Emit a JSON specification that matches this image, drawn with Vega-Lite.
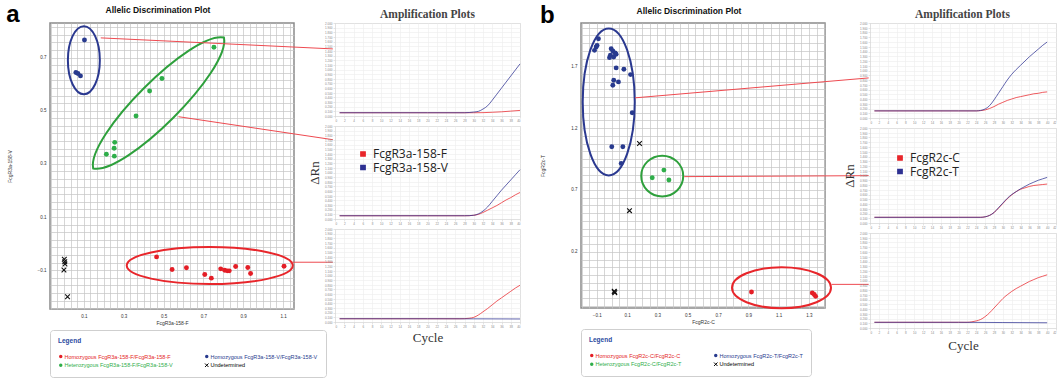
{
  "$schema": "https://vega.github.io/schema/vega-lite/v6.json",
  "background": "white",
  "padding": {"left": 6, "top": 2, "right": 0, "bottom": 0},
  "config": {
    "font": "Liberation Sans",
    "view": {"stroke": "#8a8a8a", "strokeWidth": 1.5},
    "axis": {"labelOverlap": false}
  },
  "datasets": {
    "scatterA": [
      {"x": 0.103, "y": 0.766, "genotype": "Homozygous FcgR3a-158-V/FcgR3a-158-V"},
      {"x": 0.06, "y": 0.644, "genotype": "Homozygous FcgR3a-158-V/FcgR3a-158-V"},
      {"x": 0.07, "y": 0.64, "genotype": "Homozygous FcgR3a-158-V/FcgR3a-158-V"},
      {"x": 0.083, "y": 0.631, "genotype": "Homozygous FcgR3a-158-V/FcgR3a-158-V"},
      {"x": 0.753, "y": 0.739, "genotype": "Heterozygous FcgR3a-158-F/FcgR3a-158-V"},
      {"x": 0.492, "y": 0.621, "genotype": "Heterozygous FcgR3a-158-F/FcgR3a-158-V"},
      {"x": 0.43, "y": 0.574, "genotype": "Heterozygous FcgR3a-158-F/FcgR3a-158-V"},
      {"x": 0.362, "y": 0.48, "genotype": "Heterozygous FcgR3a-158-F/FcgR3a-158-V"},
      {"x": 0.255, "y": 0.381, "genotype": "Heterozygous FcgR3a-158-F/FcgR3a-158-V"},
      {"x": 0.252, "y": 0.359, "genotype": "Heterozygous FcgR3a-158-F/FcgR3a-158-V"},
      {"x": 0.213, "y": 0.336, "genotype": "Heterozygous FcgR3a-158-F/FcgR3a-158-V"},
      {"x": 0.253, "y": 0.329, "genotype": "Heterozygous FcgR3a-158-F/FcgR3a-158-V"},
      {"x": 0.465, "y": -0.05, "genotype": "Homozygous FcgR3a-158-F/FcgR3a-158-F"},
      {"x": 0.543, "y": -0.0975, "genotype": "Homozygous FcgR3a-158-F/FcgR3a-158-F"},
      {"x": 0.615, "y": -0.091, "genotype": "Homozygous FcgR3a-158-F/FcgR3a-158-F"},
      {"x": 0.707, "y": -0.116, "genotype": "Homozygous FcgR3a-158-F/FcgR3a-158-F"},
      {"x": 0.74, "y": -0.13, "genotype": "Homozygous FcgR3a-158-F/FcgR3a-158-F"},
      {"x": 0.787, "y": -0.095, "genotype": "Homozygous FcgR3a-158-F/FcgR3a-158-F"},
      {"x": 0.807, "y": -0.1, "genotype": "Homozygous FcgR3a-158-F/FcgR3a-158-F"},
      {"x": 0.82, "y": -0.1025, "genotype": "Homozygous FcgR3a-158-F/FcgR3a-158-F"},
      {"x": 0.83, "y": -0.1025, "genotype": "Homozygous FcgR3a-158-F/FcgR3a-158-F"},
      {"x": 0.862, "y": -0.086, "genotype": "Homozygous FcgR3a-158-F/FcgR3a-158-F"},
      {"x": 0.923, "y": -0.09, "genotype": "Homozygous FcgR3a-158-F/FcgR3a-158-F"},
      {"x": 0.937, "y": -0.1125, "genotype": "Homozygous FcgR3a-158-F/FcgR3a-158-F"},
      {"x": 1.105, "y": -0.085, "genotype": "Homozygous FcgR3a-158-F/FcgR3a-158-F"},
      {"x": 0.002, "y": -0.059, "genotype": "Undetermined"},
      {"x": 0.004, "y": -0.068, "genotype": "Undetermined"},
      {"x": 0.005, "y": -0.077, "genotype": "Undetermined"},
      {"x": 0.0, "y": -0.099, "genotype": "Undetermined"},
      {"x": 0.018, "y": -0.2, "genotype": "Undetermined"}
    ],
    "scatterB": [
      {"x": -0.089, "y": 1.923, "genotype": "Homozygous FcgR2c-T/FcgR2c-T"},
      {"x": -0.104, "y": 1.856, "genotype": "Homozygous FcgR2c-T/FcgR2c-T"},
      {"x": -0.115, "y": 1.829, "genotype": "Homozygous FcgR2c-T/FcgR2c-T"},
      {"x": -0.098, "y": 1.869, "genotype": "Homozygous FcgR2c-T/FcgR2c-T"},
      {"x": -0.005, "y": 1.842, "genotype": "Homozygous FcgR2c-T/FcgR2c-T"},
      {"x": 0.006, "y": 1.824, "genotype": "Homozygous FcgR2c-T/FcgR2c-T"},
      {"x": 0.021, "y": 1.808, "genotype": "Homozygous FcgR2c-T/FcgR2c-T"},
      {"x": -0.01, "y": 1.789, "genotype": "Homozygous FcgR2c-T/FcgR2c-T"},
      {"x": -0.016, "y": 1.77, "genotype": "Homozygous FcgR2c-T/FcgR2c-T"},
      {"x": 0.012, "y": 1.775, "genotype": "Homozygous FcgR2c-T/FcgR2c-T"},
      {"x": 0.028, "y": 1.797, "genotype": "Homozygous FcgR2c-T/FcgR2c-T"},
      {"x": 0.028, "y": 1.687, "genotype": "Homozygous FcgR2c-T/FcgR2c-T"},
      {"x": 0.079, "y": 1.676, "genotype": "Homozygous FcgR2c-T/FcgR2c-T"},
      {"x": 0.123, "y": 1.633, "genotype": "Homozygous FcgR2c-T/FcgR2c-T"},
      {"x": 0.012, "y": 1.587, "genotype": "Homozygous FcgR2c-T/FcgR2c-T"},
      {"x": 0.043, "y": 1.574, "genotype": "Homozygous FcgR2c-T/FcgR2c-T"},
      {"x": 0.006, "y": 1.547, "genotype": "Homozygous FcgR2c-T/FcgR2c-T"},
      {"x": 0.134, "y": 1.324, "genotype": "Homozygous FcgR2c-T/FcgR2c-T"},
      {"x": -0.001, "y": 1.049, "genotype": "Homozygous FcgR2c-T/FcgR2c-T"},
      {"x": 0.072, "y": 1.049, "genotype": "Homozygous FcgR2c-T/FcgR2c-T"},
      {"x": 0.061, "y": 0.915, "genotype": "Homozygous FcgR2c-T/FcgR2c-T"},
      {"x": 0.266, "y": 0.799, "genotype": "Heterozygous FcgR2c-C/FcgR2c-T"},
      {"x": 0.343, "y": 0.861, "genotype": "Heterozygous FcgR2c-C/FcgR2c-T"},
      {"x": 0.376, "y": 0.781, "genotype": "Heterozygous FcgR2c-C/FcgR2c-T"},
      {"x": 0.921, "y": -0.125, "genotype": "Homozygous FcgR2c-C/FcgR2c-C"},
      {"x": 1.322, "y": -0.133, "genotype": "Homozygous FcgR2c-C/FcgR2c-C"},
      {"x": 1.335, "y": -0.145, "genotype": "Homozygous FcgR2c-C/FcgR2c-C"},
      {"x": 1.344, "y": -0.16, "genotype": "Homozygous FcgR2c-C/FcgR2c-C"},
      {"x": 0.182, "y": 1.076, "genotype": "Undetermined"},
      {"x": 0.116, "y": 0.533, "genotype": "Undetermined"},
      {"x": 0.017, "y": -0.123, "genotype": "Undetermined"},
      {"x": 0.019, "y": -0.13, "genotype": "Undetermined"},
      {"x": 0.015, "y": -0.118, "genotype": "Undetermined"}
    ],
    "ampA": [
      {"plot": 1, "allele": "FcgR3a-158-F", "cycle": 1, "rn": 0.07},
      {"plot": 1, "allele": "FcgR3a-158-F", "cycle": 10, "rn": 0.07},
      {"plot": 1, "allele": "FcgR3a-158-F", "cycle": 20, "rn": 0.07},
      {"plot": 1, "allele": "FcgR3a-158-F", "cycle": 30, "rn": 0.07},
      {"plot": 1, "allele": "FcgR3a-158-F", "cycle": 32, "rn": 0.072},
      {"plot": 1, "allele": "FcgR3a-158-F", "cycle": 34, "rn": 0.08},
      {"plot": 1, "allele": "FcgR3a-158-F", "cycle": 36, "rn": 0.09},
      {"plot": 1, "allele": "FcgR3a-158-F", "cycle": 38, "rn": 0.105},
      {"plot": 1, "allele": "FcgR3a-158-F", "cycle": 40, "rn": 0.12},
      {"plot": 1, "allele": "FcgR3a-158-V", "cycle": 1, "rn": 0.07},
      {"plot": 1, "allele": "FcgR3a-158-V", "cycle": 10, "rn": 0.07},
      {"plot": 1, "allele": "FcgR3a-158-V", "cycle": 20, "rn": 0.07},
      {"plot": 1, "allele": "FcgR3a-158-V", "cycle": 28, "rn": 0.07},
      {"plot": 1, "allele": "FcgR3a-158-V", "cycle": 29, "rn": 0.075},
      {"plot": 1, "allele": "FcgR3a-158-V", "cycle": 30, "rn": 0.085},
      {"plot": 1, "allele": "FcgR3a-158-V", "cycle": 31, "rn": 0.1},
      {"plot": 1, "allele": "FcgR3a-158-V", "cycle": 32, "rn": 0.15},
      {"plot": 1, "allele": "FcgR3a-158-V", "cycle": 33, "rn": 0.22},
      {"plot": 1, "allele": "FcgR3a-158-V", "cycle": 34, "rn": 0.34},
      {"plot": 1, "allele": "FcgR3a-158-V", "cycle": 35, "rn": 0.47},
      {"plot": 1, "allele": "FcgR3a-158-V", "cycle": 36, "rn": 0.6},
      {"plot": 1, "allele": "FcgR3a-158-V", "cycle": 37, "rn": 0.73},
      {"plot": 1, "allele": "FcgR3a-158-V", "cycle": 38, "rn": 0.86},
      {"plot": 1, "allele": "FcgR3a-158-V", "cycle": 39, "rn": 0.99},
      {"plot": 1, "allele": "FcgR3a-158-V", "cycle": 40, "rn": 1.12},
      {"plot": 2, "allele": "FcgR3a-158-F", "cycle": 1, "rn": 0.07},
      {"plot": 2, "allele": "FcgR3a-158-F", "cycle": 10, "rn": 0.07},
      {"plot": 2, "allele": "FcgR3a-158-F", "cycle": 20, "rn": 0.07},
      {"plot": 2, "allele": "FcgR3a-158-F", "cycle": 28, "rn": 0.07},
      {"plot": 2, "allele": "FcgR3a-158-F", "cycle": 29, "rn": 0.071},
      {"plot": 2, "allele": "FcgR3a-158-F", "cycle": 30, "rn": 0.08},
      {"plot": 2, "allele": "FcgR3a-158-F", "cycle": 31, "rn": 0.1},
      {"plot": 2, "allele": "FcgR3a-158-F", "cycle": 32, "rn": 0.14},
      {"plot": 2, "allele": "FcgR3a-158-F", "cycle": 33, "rn": 0.19},
      {"plot": 2, "allele": "FcgR3a-158-F", "cycle": 34, "rn": 0.24},
      {"plot": 2, "allele": "FcgR3a-158-F", "cycle": 35, "rn": 0.29},
      {"plot": 2, "allele": "FcgR3a-158-F", "cycle": 36, "rn": 0.35},
      {"plot": 2, "allele": "FcgR3a-158-F", "cycle": 37, "rn": 0.41},
      {"plot": 2, "allele": "FcgR3a-158-F", "cycle": 38, "rn": 0.46},
      {"plot": 2, "allele": "FcgR3a-158-F", "cycle": 39, "rn": 0.52},
      {"plot": 2, "allele": "FcgR3a-158-F", "cycle": 40, "rn": 0.57},
      {"plot": 2, "allele": "FcgR3a-158-V", "cycle": 1, "rn": 0.07},
      {"plot": 2, "allele": "FcgR3a-158-V", "cycle": 10, "rn": 0.07},
      {"plot": 2, "allele": "FcgR3a-158-V", "cycle": 20, "rn": 0.07},
      {"plot": 2, "allele": "FcgR3a-158-V", "cycle": 28, "rn": 0.07},
      {"plot": 2, "allele": "FcgR3a-158-V", "cycle": 29, "rn": 0.072},
      {"plot": 2, "allele": "FcgR3a-158-V", "cycle": 30, "rn": 0.08},
      {"plot": 2, "allele": "FcgR3a-158-V", "cycle": 31, "rn": 0.11},
      {"plot": 2, "allele": "FcgR3a-158-V", "cycle": 32, "rn": 0.17},
      {"plot": 2, "allele": "FcgR3a-158-V", "cycle": 33, "rn": 0.26},
      {"plot": 2, "allele": "FcgR3a-158-V", "cycle": 34, "rn": 0.38},
      {"plot": 2, "allele": "FcgR3a-158-V", "cycle": 35, "rn": 0.5},
      {"plot": 2, "allele": "FcgR3a-158-V", "cycle": 36, "rn": 0.62},
      {"plot": 2, "allele": "FcgR3a-158-V", "cycle": 37, "rn": 0.73},
      {"plot": 2, "allele": "FcgR3a-158-V", "cycle": 38, "rn": 0.84},
      {"plot": 2, "allele": "FcgR3a-158-V", "cycle": 39, "rn": 0.95},
      {"plot": 2, "allele": "FcgR3a-158-V", "cycle": 40, "rn": 1.06},
      {"plot": 3, "allele": "FcgR3a-158-F", "cycle": 1, "rn": 0.07},
      {"plot": 3, "allele": "FcgR3a-158-F", "cycle": 10, "rn": 0.07},
      {"plot": 3, "allele": "FcgR3a-158-F", "cycle": 20, "rn": 0.07},
      {"plot": 3, "allele": "FcgR3a-158-F", "cycle": 27, "rn": 0.07},
      {"plot": 3, "allele": "FcgR3a-158-F", "cycle": 28, "rn": 0.072},
      {"plot": 3, "allele": "FcgR3a-158-F", "cycle": 29, "rn": 0.08},
      {"plot": 3, "allele": "FcgR3a-158-F", "cycle": 30, "rn": 0.1},
      {"plot": 3, "allele": "FcgR3a-158-F", "cycle": 31, "rn": 0.15},
      {"plot": 3, "allele": "FcgR3a-158-F", "cycle": 32, "rn": 0.22},
      {"plot": 3, "allele": "FcgR3a-158-F", "cycle": 33, "rn": 0.29},
      {"plot": 3, "allele": "FcgR3a-158-F", "cycle": 34, "rn": 0.37},
      {"plot": 3, "allele": "FcgR3a-158-F", "cycle": 35, "rn": 0.45},
      {"plot": 3, "allele": "FcgR3a-158-F", "cycle": 36, "rn": 0.52},
      {"plot": 3, "allele": "FcgR3a-158-F", "cycle": 37, "rn": 0.59},
      {"plot": 3, "allele": "FcgR3a-158-F", "cycle": 38, "rn": 0.66},
      {"plot": 3, "allele": "FcgR3a-158-F", "cycle": 39, "rn": 0.73},
      {"plot": 3, "allele": "FcgR3a-158-F", "cycle": 40, "rn": 0.79},
      {"plot": 3, "allele": "FcgR3a-158-V", "cycle": 1, "rn": 0.07},
      {"plot": 3, "allele": "FcgR3a-158-V", "cycle": 10, "rn": 0.07},
      {"plot": 3, "allele": "FcgR3a-158-V", "cycle": 20, "rn": 0.07},
      {"plot": 3, "allele": "FcgR3a-158-V", "cycle": 30, "rn": 0.068},
      {"plot": 3, "allele": "FcgR3a-158-V", "cycle": 40, "rn": 0.065}
    ],
    "ampB": [
      {"plot": 1, "allele": "FcgR2c-C", "cycle": 1, "rn": 0.15},
      {"plot": 1, "allele": "FcgR2c-C", "cycle": 10, "rn": 0.15},
      {"plot": 1, "allele": "FcgR2c-C", "cycle": 20, "rn": 0.15},
      {"plot": 1, "allele": "FcgR2c-C", "cycle": 24, "rn": 0.15},
      {"plot": 1, "allele": "FcgR2c-C", "cycle": 25, "rn": 0.155},
      {"plot": 1, "allele": "FcgR2c-C", "cycle": 26, "rn": 0.17},
      {"plot": 1, "allele": "FcgR2c-C", "cycle": 27, "rn": 0.2},
      {"plot": 1, "allele": "FcgR2c-C", "cycle": 28, "rn": 0.24},
      {"plot": 1, "allele": "FcgR2c-C", "cycle": 29, "rn": 0.29},
      {"plot": 1, "allele": "FcgR2c-C", "cycle": 30, "rn": 0.33},
      {"plot": 1, "allele": "FcgR2c-C", "cycle": 31, "rn": 0.37},
      {"plot": 1, "allele": "FcgR2c-C", "cycle": 32, "rn": 0.4},
      {"plot": 1, "allele": "FcgR2c-C", "cycle": 33, "rn": 0.43},
      {"plot": 1, "allele": "FcgR2c-C", "cycle": 34, "rn": 0.45},
      {"plot": 1, "allele": "FcgR2c-C", "cycle": 35, "rn": 0.47},
      {"plot": 1, "allele": "FcgR2c-C", "cycle": 36, "rn": 0.49},
      {"plot": 1, "allele": "FcgR2c-C", "cycle": 37, "rn": 0.51},
      {"plot": 1, "allele": "FcgR2c-C", "cycle": 38, "rn": 0.52},
      {"plot": 1, "allele": "FcgR2c-C", "cycle": 39, "rn": 0.54},
      {"plot": 1, "allele": "FcgR2c-C", "cycle": 40, "rn": 0.55},
      {"plot": 1, "allele": "FcgR2c-T", "cycle": 1, "rn": 0.15},
      {"plot": 1, "allele": "FcgR2c-T", "cycle": 10, "rn": 0.15},
      {"plot": 1, "allele": "FcgR2c-T", "cycle": 20, "rn": 0.15},
      {"plot": 1, "allele": "FcgR2c-T", "cycle": 24, "rn": 0.15},
      {"plot": 1, "allele": "FcgR2c-T", "cycle": 25, "rn": 0.16},
      {"plot": 1, "allele": "FcgR2c-T", "cycle": 26, "rn": 0.19},
      {"plot": 1, "allele": "FcgR2c-T", "cycle": 27, "rn": 0.26},
      {"plot": 1, "allele": "FcgR2c-T", "cycle": 28, "rn": 0.38},
      {"plot": 1, "allele": "FcgR2c-T", "cycle": 29, "rn": 0.52},
      {"plot": 1, "allele": "FcgR2c-T", "cycle": 30, "rn": 0.66},
      {"plot": 1, "allele": "FcgR2c-T", "cycle": 31, "rn": 0.8},
      {"plot": 1, "allele": "FcgR2c-T", "cycle": 32, "rn": 0.92},
      {"plot": 1, "allele": "FcgR2c-T", "cycle": 33, "rn": 1.02},
      {"plot": 1, "allele": "FcgR2c-T", "cycle": 34, "rn": 1.11},
      {"plot": 1, "allele": "FcgR2c-T", "cycle": 35, "rn": 1.2},
      {"plot": 1, "allele": "FcgR2c-T", "cycle": 36, "rn": 1.29},
      {"plot": 1, "allele": "FcgR2c-T", "cycle": 37, "rn": 1.37},
      {"plot": 1, "allele": "FcgR2c-T", "cycle": 38, "rn": 1.45},
      {"plot": 1, "allele": "FcgR2c-T", "cycle": 39, "rn": 1.53},
      {"plot": 1, "allele": "FcgR2c-T", "cycle": 40, "rn": 1.6},
      {"plot": 2, "allele": "FcgR2c-C", "cycle": 1, "rn": 0.12},
      {"plot": 2, "allele": "FcgR2c-C", "cycle": 10, "rn": 0.12},
      {"plot": 2, "allele": "FcgR2c-C", "cycle": 20, "rn": 0.12},
      {"plot": 2, "allele": "FcgR2c-C", "cycle": 25, "rn": 0.12},
      {"plot": 2, "allele": "FcgR2c-C", "cycle": 26, "rn": 0.13},
      {"plot": 2, "allele": "FcgR2c-C", "cycle": 27, "rn": 0.16},
      {"plot": 2, "allele": "FcgR2c-C", "cycle": 28, "rn": 0.22},
      {"plot": 2, "allele": "FcgR2c-C", "cycle": 29, "rn": 0.31},
      {"plot": 2, "allele": "FcgR2c-C", "cycle": 30, "rn": 0.41},
      {"plot": 2, "allele": "FcgR2c-C", "cycle": 31, "rn": 0.51},
      {"plot": 2, "allele": "FcgR2c-C", "cycle": 32, "rn": 0.59},
      {"plot": 2, "allele": "FcgR2c-C", "cycle": 33, "rn": 0.66},
      {"plot": 2, "allele": "FcgR2c-C", "cycle": 34, "rn": 0.71},
      {"plot": 2, "allele": "FcgR2c-C", "cycle": 35, "rn": 0.74},
      {"plot": 2, "allele": "FcgR2c-C", "cycle": 36, "rn": 0.77},
      {"plot": 2, "allele": "FcgR2c-C", "cycle": 37, "rn": 0.79},
      {"plot": 2, "allele": "FcgR2c-C", "cycle": 38, "rn": 0.8},
      {"plot": 2, "allele": "FcgR2c-C", "cycle": 39, "rn": 0.81},
      {"plot": 2, "allele": "FcgR2c-C", "cycle": 40, "rn": 0.82},
      {"plot": 2, "allele": "FcgR2c-T", "cycle": 1, "rn": 0.12},
      {"plot": 2, "allele": "FcgR2c-T", "cycle": 10, "rn": 0.12},
      {"plot": 2, "allele": "FcgR2c-T", "cycle": 20, "rn": 0.12},
      {"plot": 2, "allele": "FcgR2c-T", "cycle": 25, "rn": 0.12},
      {"plot": 2, "allele": "FcgR2c-T", "cycle": 26, "rn": 0.13},
      {"plot": 2, "allele": "FcgR2c-T", "cycle": 27, "rn": 0.16},
      {"plot": 2, "allele": "FcgR2c-T", "cycle": 28, "rn": 0.22},
      {"plot": 2, "allele": "FcgR2c-T", "cycle": 29, "rn": 0.32},
      {"plot": 2, "allele": "FcgR2c-T", "cycle": 30, "rn": 0.42},
      {"plot": 2, "allele": "FcgR2c-T", "cycle": 31, "rn": 0.52},
      {"plot": 2, "allele": "FcgR2c-T", "cycle": 32, "rn": 0.6},
      {"plot": 2, "allele": "FcgR2c-T", "cycle": 33, "rn": 0.66},
      {"plot": 2, "allele": "FcgR2c-T", "cycle": 34, "rn": 0.72},
      {"plot": 2, "allele": "FcgR2c-T", "cycle": 35, "rn": 0.77},
      {"plot": 2, "allele": "FcgR2c-T", "cycle": 36, "rn": 0.82},
      {"plot": 2, "allele": "FcgR2c-T", "cycle": 37, "rn": 0.86},
      {"plot": 2, "allele": "FcgR2c-T", "cycle": 38, "rn": 0.9},
      {"plot": 2, "allele": "FcgR2c-T", "cycle": 39, "rn": 0.93},
      {"plot": 2, "allele": "FcgR2c-T", "cycle": 40, "rn": 0.96},
      {"plot": 3, "allele": "FcgR2c-C", "cycle": 1, "rn": 0.12},
      {"plot": 3, "allele": "FcgR2c-C", "cycle": 10, "rn": 0.12},
      {"plot": 3, "allele": "FcgR2c-C", "cycle": 20, "rn": 0.12},
      {"plot": 3, "allele": "FcgR2c-C", "cycle": 22, "rn": 0.12},
      {"plot": 3, "allele": "FcgR2c-C", "cycle": 23, "rn": 0.13},
      {"plot": 3, "allele": "FcgR2c-C", "cycle": 24, "rn": 0.15},
      {"plot": 3, "allele": "FcgR2c-C", "cycle": 25, "rn": 0.18},
      {"plot": 3, "allele": "FcgR2c-C", "cycle": 26, "rn": 0.24},
      {"plot": 3, "allele": "FcgR2c-C", "cycle": 27, "rn": 0.32},
      {"plot": 3, "allele": "FcgR2c-C", "cycle": 28, "rn": 0.42},
      {"plot": 3, "allele": "FcgR2c-C", "cycle": 29, "rn": 0.52},
      {"plot": 3, "allele": "FcgR2c-C", "cycle": 30, "rn": 0.62},
      {"plot": 3, "allele": "FcgR2c-C", "cycle": 31, "rn": 0.7},
      {"plot": 3, "allele": "FcgR2c-C", "cycle": 32, "rn": 0.77},
      {"plot": 3, "allele": "FcgR2c-C", "cycle": 33, "rn": 0.83},
      {"plot": 3, "allele": "FcgR2c-C", "cycle": 34, "rn": 0.88},
      {"plot": 3, "allele": "FcgR2c-C", "cycle": 35, "rn": 0.93},
      {"plot": 3, "allele": "FcgR2c-C", "cycle": 36, "rn": 0.98},
      {"plot": 3, "allele": "FcgR2c-C", "cycle": 37, "rn": 1.02},
      {"plot": 3, "allele": "FcgR2c-C", "cycle": 38, "rn": 1.06},
      {"plot": 3, "allele": "FcgR2c-C", "cycle": 39, "rn": 1.09},
      {"plot": 3, "allele": "FcgR2c-C", "cycle": 40, "rn": 1.12},
      {"plot": 3, "allele": "FcgR2c-T", "cycle": 1, "rn": 0.12},
      {"plot": 3, "allele": "FcgR2c-T", "cycle": 10, "rn": 0.12},
      {"plot": 3, "allele": "FcgR2c-T", "cycle": 20, "rn": 0.12},
      {"plot": 3, "allele": "FcgR2c-T", "cycle": 30, "rn": 0.115},
      {"plot": 3, "allele": "FcgR2c-T", "cycle": 40, "rn": 0.11}
    ]
  },
  "hconcat": [
    {
      "title": {"text": "a", "anchor": "start", "frame": "bounds", "fontSize": 24, "fontWeight": "bold", "offset": -22, "color": "#000"},
      "spacing": -28,
      "resolve": {"scale": {"x": "independent", "y": "independent", "color": "independent"}, "axis": {"x": "independent", "y": "independent"}, "legend": {"color": "independent"}},
      "hconcat": [
        {
          "width": 244,
          "height": 286,
          "title": {"text": "Allelic Discrimination Plot", "fontSize": 8.5, "fontWeight": "bold", "offset": 8, "color": "#111", "dx": -14},
          "layer": [
            {
              "data": {"name": "scatterA"},
              "transform": [{"filter": "datum.genotype != 'Undetermined'"}],
              "mark": {"type": "point", "filled": true, "size": 24, "opacity": 1},
              "encoding": {
                "x": {"field": "x", "type": "quantitative", "scale": {"domain": [-0.07, 1.155], "nice": false, "zero": false},
                  "axis": {"title": "FcgR3a-158-F", "tickCount": 200, "values": [-0.0667, -0.0333, 0, 0.0333, 0.0667, 0.1, 0.1333, 0.1667, 0.2, 0.2333, 0.2667, 0.3, 0.3333, 0.3667, 0.4, 0.4333, 0.4667, 0.5, 0.5333, 0.5667, 0.6, 0.6333, 0.6667, 0.7, 0.7333, 0.7667, 0.8, 0.8333, 0.8667, 0.9, 0.9333, 0.9667, 1.0, 1.0333, 1.0667, 1.1, 1.1333],
                    "labelExpr": "abs((datum.value - 0.1) / 0.2 - round((datum.value - 0.1) / 0.2)) < 0.01 ? format(datum.value, '.1f') : ''",
                    "labelFontSize": 4.5, "labelColor": "#333", "labelPadding": 4, "ticks": false, "domain": false, "grid": true, "gridColor": "#c4c4c4", "gridWidth": 0.7,
                    "titleFontSize": 5, "titleFontWeight": "normal", "titleColor": "#333", "titlePadding": 3, "labelOverlap": false}},
                "y": {"field": "y", "type": "quantitative", "scale": {"domain": [-0.246, 0.83], "nice": false, "zero": false},
                  "axis": {"title": "FcgR3a-158-V", "tickCount": 200, "values": [-0.2429, -0.2143, -0.1857, -0.1571, -0.1286, -0.1, -0.0714, -0.0429, -0.0143, 0.0143, 0.0429, 0.0714, 0.1, 0.1286, 0.1571, 0.1857, 0.2143, 0.2429, 0.2714, 0.3, 0.3286, 0.3571, 0.3857, 0.4143, 0.4429, 0.4714, 0.5, 0.5286, 0.5571, 0.5857, 0.6143, 0.6429, 0.6714, 0.7, 0.7286, 0.7571, 0.7857, 0.8143],
                    "labelExpr": "abs((datum.value + 0.1) / 0.2 - round((datum.value + 0.1) / 0.2)) < 0.01 ? format(datum.value, '.1f') : ''",
                    "labelFontSize": 4.5, "labelColor": "#333", "labelPadding": 4, "ticks": false, "domain": false, "grid": true, "gridColor": "#c4c4c4", "gridWidth": 0.7,
                    "titleFontSize": 5, "titleFontWeight": "normal", "titleColor": "#333", "titlePadding": 25, "labelOverlap": false}},
                "color": {"field": "genotype", "type": "nominal",
                  "scale": {"domain": ["Homozygous FcgR3a-158-F/FcgR3a-158-F", "Homozygous FcgR3a-158-V/FcgR3a-158-V", "Heterozygous FcgR3a-158-F/FcgR3a-158-V", "Undetermined"], "range": ["#e41e26", "#283a8e", "#2fae4a", "#000000"]},
                  "legend": {"title": "Legend", "orient": "bottom", "columns": 2, "titleColor": "#2b4aa0", "titleFontSize": 6.5, "titleFontWeight": "bold", "titleAnchor": "start", "titlePadding": 9,
                    "labelFontSize": 5.5, "labelLimit": 300, "symbolSize": 12, "columnPadding": 30, "rowPadding": 1, "padding": 8, "strokeColor": "#cfcfcf", "cornerRadius": 3, "offset": 4, "labelOffset": 1,
                    "encoding": {
                      "symbols": {
                        "shape": {"value": {"expr": "datum.value === 'Undetermined' ? 'M-1,-1L1,1M-1,1L1,-1' : 'circle'"}},
                        "fill": {"value": {"expr": "datum.value === 'Undetermined' ? 'transparent' : datum.value === 'Homozygous FcgR3a-158-F/FcgR3a-158-F' ? '#e41e26' : datum.value === 'Homozygous FcgR3a-158-V/FcgR3a-158-V' ? '#283a8e' : '#2fae4a'"}},
                        "stroke": {"value": {"expr": "datum.value === 'Undetermined' ? '#000000' : 'transparent'"}},
                        "strokeWidth": {"value": 1}},
                      "labels": {
                        "fill": {"value": {"expr": "datum.value === 'Undetermined' ? '#000000' : datum.value === 'Homozygous FcgR3a-158-F/FcgR3a-158-F' ? '#e41e26' : datum.value === 'Homozygous FcgR3a-158-V/FcgR3a-158-V' ? '#283a8e' : '#2fae4a'"}}}
                    }}}
              }
            },
            {
              "data": {"values": [{"x": 0.1, "y": 0.69}]},
              "mark": {"type": "point", "shape": "M-1,0A1,0.47,0,1,0,1,0A1,0.47,0,1,0,-1,0Z", "size": 4624, "angle": 90, "filled": false, "stroke": "#2b3990", "strokeWidth": 2, "opacity": 1, "clip": false},
              "encoding": {"x": {"field": "x", "type": "quantitative"}, "y": {"field": "y", "type": "quantitative"}}
            },
            {
              "data": {"values": [{"x": 0.475, "y": 0.529}]},
              "mark": {"type": "point", "shape": "M-1,0C-0.8,-0.3,0.8,-0.3,1,0C0.8,0.3,-0.8,0.3,-1,0Z", "size": 34225, "angle": 315, "filled": false, "stroke": "#2ea03c", "strokeWidth": 2, "opacity": 1, "clip": false},
              "encoding": {"x": {"field": "x", "type": "quantitative"}, "y": {"field": "y", "type": "quantitative"}}
            },
            {
              "data": {"values": [{"x": 0.732, "y": -0.0825}]},
              "mark": {"type": "point", "shape": "M-1,0A1,0.223,0,1,0,1,0A1,0.223,0,1,0,-1,0Z", "size": 27556, "angle": 0, "filled": false, "stroke": "#e8262b", "strokeWidth": 2, "opacity": 1, "clip": false},
              "encoding": {"x": {"field": "x", "type": "quantitative"}, "y": {"field": "y", "type": "quantitative"}}
            },
            {
              "data": {"values": [
                {"x": 0.185, "y": 0.774, "x2": 1.35, "y2": 0.7325},
                {"x": 0.575, "y": 0.4775, "x2": 1.35, "y2": 0.391},
                {"x": 1.145, "y": -0.07, "x2": 1.35, "y2": -0.07}
              ]},
              "mark": {"type": "rule", "color": "#ee4a50", "strokeWidth": 1, "clip": false},
              "encoding": {"x": {"field": "x", "type": "quantitative"}, "y": {"field": "y", "type": "quantitative"}, "x2": {"field": "x2"}, "y2": {"field": "y2"}}
            },
            {
              "data": {"name": "scatterA"},
              "transform": [{"filter": "datum.genotype == 'Undetermined'"}],
              "mark": {"type": "point", "shape": "M-1,-1L1,1M-1,1L1,-1", "size": 22, "filled": false, "stroke": "#111111", "strokeWidth": 1.1, "opacity": 1},
              "encoding": {"x": {"field": "x", "type": "quantitative"}, "y": {"field": "y", "type": "quantitative"}}
            }
          ]
        },
        {
          "title": {"text": "Amplification Plots", "font": "Liberation Serif", "fontSize": 11.5, "fontWeight": "bold", "color": "#444", "offset": 1, "anchor": "start", "frame": "bounds", "dx": 72},
          "spacing": 1,
          "resolve": {"scale": {"x": "independent", "y": "independent", "color": "independent"}, "legend": {"color": "independent"}},
          "vconcat": [
            {
              "width": 185, "height": 93,
              "view": {"stroke": "#d0d0d0", "strokeWidth": 1},
              "data": {"name": "ampA"},
              "transform": [{"filter": "datum.plot == 1"}],
              "mark": {"type": "line", "strokeWidth": 1, "interpolate": "monotone", "opacity": 0.75},
              "encoding": {
                "x": {"field": "cycle", "type": "quantitative", "scale": {"domain": [0, 40], "nice": false},
                  "axis": {"tickCount": 100, "values": [0, 2, 4, 6, 8, 10, 12, 14, 16, 18, 20, 22, 24, 26, 28, 30, 32, 34, 36, 38, 40], "format": "d", "labelFontSize": 3, "labelColor": "#888", "labelPadding": 1, "tickSize": 2, "tickColor": "#c8c8c8", "tickWidth": 0.5, "grid": true, "gridColor": "#ececec", "gridWidth": 0.6, "domain": false, "title": null}},
                "y": {"field": "rn", "type": "quantitative", "scale": {"domain": [0, 2], "nice": false},
                  "axis": {"tickCount": 100, "values": [0, 0.1, 0.2, 0.3, 0.4, 0.5, 0.6, 0.7, 0.8, 0.9, 1.0, 1.1, 1.2, 1.3, 1.4, 1.5, 1.6, 1.7, 1.8, 1.9, 2.0], "format": ".3f", "labelFontSize": 3, "labelColor": "#888", "labelPadding": 1, "tickSize": 2, "tickColor": "#c8c8c8", "tickWidth": 0.5, "grid": true, "gridColor": "#ececec", "gridWidth": 0.6, "domain": false, "title": null}},
                "color": {"field": "allele", "type": "nominal", "scale": {"domain": ["FcgR3a-158-F", "FcgR3a-158-V"], "range": ["#e8262b", "#2e3192"]}, "legend": null}
              }
            },
            {
              "width": 185, "height": 93,
              "view": {"stroke": "#d0d0d0", "strokeWidth": 1},
              "data": {"name": "ampA"},
              "transform": [{"filter": "datum.plot == 2"}],
              "mark": {"type": "line", "strokeWidth": 1, "interpolate": "monotone", "opacity": 0.75},
              "encoding": {
                "x": {"field": "cycle", "type": "quantitative", "scale": {"domain": [0, 40], "nice": false},
                  "axis": {"tickCount": 100, "values": [0, 2, 4, 6, 8, 10, 12, 14, 16, 18, 20, 22, 24, 26, 28, 30, 32, 34, 36, 38, 40], "format": "d", "labelFontSize": 3, "labelColor": "#888", "labelPadding": 1, "tickSize": 2, "tickColor": "#c8c8c8", "tickWidth": 0.5, "grid": true, "gridColor": "#ececec", "gridWidth": 0.6, "domain": false, "title": null}},
                "y": {"field": "rn", "type": "quantitative", "scale": {"domain": [0, 2], "nice": false},
                  "axis": {"tickCount": 100, "values": [0, 0.1, 0.2, 0.3, 0.4, 0.5, 0.6, 0.7, 0.8, 0.9, 1.0, 1.1, 1.2, 1.3, 1.4, 1.5, 1.6, 1.7, 1.8, 1.9, 2.0], "format": ".3f", "labelFontSize": 3, "labelColor": "#888", "labelPadding": 1, "tickSize": 2, "tickColor": "#c8c8c8", "tickWidth": 0.5, "grid": true, "gridColor": "#ececec", "gridWidth": 0.6, "domain": false,
                    "title": "ΔRn", "titleFont": "Liberation Serif", "titleFontSize": 13, "titleFontWeight": "normal", "titleColor": "#333", "titlePadding": 3}},
                "color": {"field": "allele", "type": "nominal", "scale": {"domain": ["FcgR3a-158-F", "FcgR3a-158-V"], "range": ["#e8262b", "#2e3192"]},
                  "legend": {"title": null, "orient": "top-left", "offset": 22, "labelFont": "Open Sans", "labelFontSize": 12, "labelColor": "#222", "symbolSize": 18, "rowPadding": 1.5, "labelOffset": 4,
                    "encoding": {"symbols": {
                      "shape": {"value": "square"},
                      "fill": {"value": {"expr": "datum.value === 'FcgR3a-158-F' ? '#e8262b' : '#2e3192'"}},
                      "stroke": {"value": "transparent"},
                      "opacity": {"value": 1}}}}}
              }
            },
            {
              "width": 185, "height": 93,
              "view": {"stroke": "#d0d0d0", "strokeWidth": 1},
              "data": {"name": "ampA"},
              "transform": [{"filter": "datum.plot == 3"}],
              "mark": {"type": "line", "strokeWidth": 1, "interpolate": "monotone", "opacity": 0.75},
              "encoding": {
                "x": {"field": "cycle", "type": "quantitative", "scale": {"domain": [0, 40], "nice": false},
                  "axis": {"tickCount": 100, "values": [0, 2, 4, 6, 8, 10, 12, 14, 16, 18, 20, 22, 24, 26, 28, 30, 32, 34, 36, 38, 40], "format": "d", "labelFontSize": 3, "labelColor": "#888", "labelPadding": 1, "tickSize": 2, "tickColor": "#c8c8c8", "tickWidth": 0.5, "grid": true, "gridColor": "#ececec", "gridWidth": 0.6, "domain": false,
                    "title": "Cycle", "titleFont": "Liberation Serif", "titleFontSize": 13, "titleFontWeight": "normal", "titleColor": "#333", "titlePadding": 3}},
                "y": {"field": "rn", "type": "quantitative", "scale": {"domain": [0, 2], "nice": false},
                  "axis": {"tickCount": 100, "values": [0, 0.1, 0.2, 0.3, 0.4, 0.5, 0.6, 0.7, 0.8, 0.9, 1.0, 1.1, 1.2, 1.3, 1.4, 1.5, 1.6, 1.7, 1.8, 1.9, 2.0], "format": ".3f", "labelFontSize": 3, "labelColor": "#888", "labelPadding": 1, "tickSize": 2, "tickColor": "#c8c8c8", "tickWidth": 0.5, "grid": true, "gridColor": "#ececec", "gridWidth": 0.6, "domain": false, "title": null}},
                "color": {"field": "allele", "type": "nominal", "scale": {"domain": ["FcgR3a-158-F", "FcgR3a-158-V"], "range": ["#e8262b", "#2e3192"]}, "legend": null}
              }
            }
          ]
        }
      ]
    },
    {
      "title": {"text": "b", "anchor": "start", "frame": "bounds", "fontSize": 24, "fontWeight": "bold", "offset": -22, "color": "#000"},
      "spacing": -30,
      "resolve": {"scale": {"x": "independent", "y": "independent", "color": "independent"}, "axis": {"x": "independent", "y": "independent"}, "legend": {"color": "independent"}},
      "hconcat": [
        {
          "width": 244,
          "height": 285,
          "title": {"text": "Allelic Discrimination Plot", "fontSize": 8.5, "fontWeight": "bold", "offset": 8, "color": "#111", "dx": -14},
          "layer": [
            {
              "data": {"name": "scatterB"},
              "transform": [{"filter": "datum.genotype != 'Undetermined'"}],
              "mark": {"type": "point", "filled": true, "size": 24, "opacity": 1},
              "encoding": {
                "x": {"field": "x", "type": "quantitative", "scale": {"domain": [-0.204, 1.406], "nice": false, "zero": false},
                  "axis": {"title": "FcgR2c-C", "tickCount": 200, "values": [-0.2, -0.15, -0.1, -0.05, 0, 0.05, 0.1, 0.15, 0.2, 0.25, 0.3, 0.35, 0.4, 0.45, 0.5, 0.55, 0.6, 0.65, 0.7, 0.75, 0.8, 0.85, 0.9, 0.95, 1.0, 1.05, 1.1, 1.15, 1.2, 1.25, 1.3, 1.35, 1.4],
                    "labelExpr": "abs((datum.value + 0.1) / 0.2 - round((datum.value + 0.1) / 0.2)) < 0.01 ? format(datum.value, '.1f') : ''",
                    "labelFontSize": 4.5, "labelColor": "#333", "labelPadding": 4, "ticks": false, "domain": false, "grid": true, "gridColor": "#c4c4c4", "gridWidth": 0.7,
                    "titleFontSize": 5, "titleFontWeight": "normal", "titleColor": "#333", "titlePadding": 3, "labelOverlap": false}},
                "y": {"field": "y", "type": "quantitative", "scale": {"domain": [-0.254, 2.05], "nice": false, "zero": false},
                  "axis": {"title": "FcgR2c-T", "tickCount": 200, "values": [-0.2375, -0.175, -0.1125, -0.05, 0.0125, 0.075, 0.1375, 0.2, 0.2625, 0.325, 0.3875, 0.45, 0.5125, 0.575, 0.6375, 0.7, 0.7625, 0.825, 0.8875, 0.95, 1.0125, 1.075, 1.1375, 1.2, 1.2625, 1.325, 1.3875, 1.45, 1.5125, 1.575, 1.6375, 1.7, 1.7625, 1.825, 1.8875, 1.95, 2.0125],
                    "labelExpr": "abs((datum.value - 0.2) / 0.5 - round((datum.value - 0.2) / 0.5)) < 0.01 ? format(datum.value, '.1f') : ''",
                    "labelFontSize": 4.5, "labelColor": "#333", "labelPadding": 4, "ticks": false, "domain": false, "grid": true, "gridColor": "#c4c4c4", "gridWidth": 0.7,
                    "titleFontSize": 5, "titleFontWeight": "normal", "titleColor": "#333", "titlePadding": 25, "labelOverlap": false}},
                "color": {"field": "genotype", "type": "nominal",
                  "scale": {"domain": ["Homozygous FcgR2c-C/FcgR2c-C", "Homozygous FcgR2c-T/FcgR2c-T", "Heterozygous FcgR2c-C/FcgR2c-T", "Undetermined"], "range": ["#e41e26", "#283a8e", "#2fae4a", "#000000"]},
                  "legend": {"title": "Legend", "orient": "bottom", "columns": 2, "titleColor": "#2b4aa0", "titleFontSize": 6.5, "titleFontWeight": "bold", "titleAnchor": "start", "titlePadding": 9,
                    "labelFontSize": 5.5, "labelLimit": 300, "symbolSize": 12, "columnPadding": 30, "rowPadding": 1, "padding": 8, "strokeColor": "#cfcfcf", "cornerRadius": 3, "offset": 4, "labelOffset": 1,
                    "encoding": {
                      "symbols": {
                        "shape": {"value": {"expr": "datum.value === 'Undetermined' ? 'M-1,-1L1,1M-1,1L1,-1' : 'circle'"}},
                        "fill": {"value": {"expr": "datum.value === 'Undetermined' ? 'transparent' : datum.value === 'Homozygous FcgR2c-C/FcgR2c-C' ? '#e41e26' : datum.value === 'Homozygous FcgR2c-T/FcgR2c-T' ? '#283a8e' : '#2fae4a'"}},
                        "stroke": {"value": {"expr": "datum.value === 'Undetermined' ? '#000000' : 'transparent'"}},
                        "strokeWidth": {"value": 1}},
                      "labels": {
                        "fill": {"value": {"expr": "datum.value === 'Undetermined' ? '#000000' : datum.value === 'Homozygous FcgR2c-C/FcgR2c-C' ? '#e41e26' : datum.value === 'Homozygous FcgR2c-T/FcgR2c-T' ? '#283a8e' : '#2fae4a'"}}}
                    }}}
              }
            },
            {
              "data": {"values": [{"x": -0.021, "y": 1.412}]},
              "mark": {"type": "point", "shape": "M-1,0A1,0.354,0,1,0,1,0A1,0.354,0,1,0,-1,0Z", "size": 21609, "angle": 90, "filled": false, "stroke": "#2b3990", "strokeWidth": 2, "opacity": 1, "clip": false},
              "encoding": {"x": {"field": "x", "type": "quantitative"}, "y": {"field": "y", "type": "quantitative"}}
            },
            {
              "data": {"values": [{"x": 0.332, "y": 0.813}]},
              "mark": {"type": "point", "shape": "M-1,0A1,0.97,0,1,0,1,0A1,0.97,0,1,0,-1,0Z", "size": 1764, "angle": 0, "filled": false, "stroke": "#2ea03c", "strokeWidth": 2, "opacity": 1, "clip": false},
              "encoding": {"x": {"field": "x", "type": "quantitative"}, "y": {"field": "y", "type": "quantitative"}}
            },
            {
              "data": {"values": [{"x": 1.119, "y": -0.09}]},
              "mark": {"type": "point", "shape": "M-1,0A1,0.414,0,1,0,1,0A1,0.414,0,1,0,-1,0Z", "size": 9801, "angle": 0, "filled": false, "stroke": "#e8262b", "strokeWidth": 2, "opacity": 1, "clip": false},
              "encoding": {"x": {"field": "x", "type": "quantitative"}, "y": {"field": "y", "type": "quantitative"}}
            },
            {
              "data": {"values": [
                {"x": 0.153, "y": 1.445, "x2": 1.694, "y2": 1.606},
                {"x": 0.477, "y": 0.808, "x2": 1.694, "y2": 0.816},
                {"x": 1.449, "y": -0.063, "x2": 1.694, "y2": -0.063}
              ]},
              "mark": {"type": "rule", "color": "#ee4a50", "strokeWidth": 1, "clip": false},
              "encoding": {"x": {"field": "x", "type": "quantitative"}, "y": {"field": "y", "type": "quantitative"}, "x2": {"field": "x2"}, "y2": {"field": "y2"}}
            },
            {
              "data": {"name": "scatterB"},
              "transform": [{"filter": "datum.genotype == 'Undetermined'"}],
              "mark": {"type": "point", "shape": "M-1,-1L1,1M-1,1L1,-1", "size": 22, "filled": false, "stroke": "#111111", "strokeWidth": 1.1, "opacity": 1},
              "encoding": {"x": {"field": "x", "type": "quantitative"}, "y": {"field": "y", "type": "quantitative"}}
            }
          ]
        },
        {
          "title": {"text": "Amplification Plots", "font": "Liberation Serif", "fontSize": 11.5, "fontWeight": "bold", "color": "#444", "offset": 1, "anchor": "start", "frame": "bounds", "dx": 72},
          "spacing": 1,
          "resolve": {"scale": {"x": "independent", "y": "independent", "color": "independent"}, "legend": {"color": "independent"}},
          "vconcat": [
            {
              "width": 186, "height": 95,
              "view": {"stroke": "#d0d0d0", "strokeWidth": 1},
              "data": {"name": "ampB"},
              "transform": [{"filter": "datum.plot == 1"}],
              "mark": {"type": "line", "strokeWidth": 1, "interpolate": "monotone", "opacity": 0.75},
              "encoding": {
                "x": {"field": "cycle", "type": "quantitative", "scale": {"domain": [0, 42], "nice": false},
                  "axis": {"tickCount": 100, "values": [0, 2, 4, 6, 8, 10, 12, 14, 16, 18, 20, 22, 24, 26, 28, 30, 32, 34, 36, 38, 40, 42], "format": "d", "labelFontSize": 3, "labelColor": "#888", "labelPadding": 1, "tickSize": 2, "tickColor": "#c8c8c8", "tickWidth": 0.5, "grid": true, "gridColor": "#ececec", "gridWidth": 0.6, "domain": false, "title": null}},
                "y": {"field": "rn", "type": "quantitative", "scale": {"domain": [0, 2], "nice": false},
                  "axis": {"tickCount": 100, "values": [0, 0.1, 0.2, 0.3, 0.4, 0.5, 0.6, 0.7, 0.8, 0.9, 1.0, 1.1, 1.2, 1.3, 1.4, 1.5, 1.6, 1.7, 1.8, 1.9, 2.0], "format": ".3f", "labelFontSize": 3, "labelColor": "#888", "labelPadding": 1, "tickSize": 2, "tickColor": "#c8c8c8", "tickWidth": 0.5, "grid": true, "gridColor": "#ececec", "gridWidth": 0.6, "domain": false, "title": null}},
                "color": {"field": "allele", "type": "nominal", "scale": {"domain": ["FcgR2c-C", "FcgR2c-T"], "range": ["#e8262b", "#2e3192"]}, "legend": null}
              }
            },
            {
              "width": 186, "height": 95,
              "view": {"stroke": "#d0d0d0", "strokeWidth": 1},
              "data": {"name": "ampB"},
              "transform": [{"filter": "datum.plot == 2"}],
              "mark": {"type": "line", "strokeWidth": 1, "interpolate": "monotone", "opacity": 0.75},
              "encoding": {
                "x": {"field": "cycle", "type": "quantitative", "scale": {"domain": [0, 42], "nice": false},
                  "axis": {"tickCount": 100, "values": [0, 2, 4, 6, 8, 10, 12, 14, 16, 18, 20, 22, 24, 26, 28, 30, 32, 34, 36, 38, 40, 42], "format": "d", "labelFontSize": 3, "labelColor": "#888", "labelPadding": 1, "tickSize": 2, "tickColor": "#c8c8c8", "tickWidth": 0.5, "grid": true, "gridColor": "#ececec", "gridWidth": 0.6, "domain": false, "title": null}},
                "y": {"field": "rn", "type": "quantitative", "scale": {"domain": [0, 2], "nice": false},
                  "axis": {"tickCount": 100, "values": [0, 0.1, 0.2, 0.3, 0.4, 0.5, 0.6, 0.7, 0.8, 0.9, 1.0, 1.1, 1.2, 1.3, 1.4, 1.5, 1.6, 1.7, 1.8, 1.9, 2.0], "format": ".3f", "labelFontSize": 3, "labelColor": "#888", "labelPadding": 1, "tickSize": 2, "tickColor": "#c8c8c8", "tickWidth": 0.5, "grid": true, "gridColor": "#ececec", "gridWidth": 0.6, "domain": false,
                    "title": "ΔRn", "titleFont": "Liberation Serif", "titleFontSize": 13, "titleFontWeight": "normal", "titleColor": "#333", "titlePadding": 3}},
                "color": {"field": "allele", "type": "nominal", "scale": {"domain": ["FcgR2c-C", "FcgR2c-T"], "range": ["#e8262b", "#2e3192"]},
                  "legend": {"title": null, "orient": "top-left", "offset": 24, "labelFont": "Open Sans", "labelFontSize": 12, "labelColor": "#222", "symbolSize": 18, "rowPadding": 1.5, "labelOffset": 4,
                    "encoding": {"symbols": {
                      "shape": {"value": "square"},
                      "fill": {"value": {"expr": "datum.value === 'FcgR2c-C' ? '#e8262b' : '#2e3192'"}},
                      "stroke": {"value": "transparent"},
                      "opacity": {"value": 1}}}}}
              }
            },
            {
              "width": 186, "height": 95,
              "view": {"stroke": "#d0d0d0", "strokeWidth": 1},
              "data": {"name": "ampB"},
              "transform": [{"filter": "datum.plot == 3"}],
              "mark": {"type": "line", "strokeWidth": 1, "interpolate": "monotone", "opacity": 0.75},
              "encoding": {
                "x": {"field": "cycle", "type": "quantitative", "scale": {"domain": [0, 42], "nice": false},
                  "axis": {"tickCount": 100, "values": [0, 2, 4, 6, 8, 10, 12, 14, 16, 18, 20, 22, 24, 26, 28, 30, 32, 34, 36, 38, 40, 42], "format": "d", "labelFontSize": 3, "labelColor": "#888", "labelPadding": 1, "tickSize": 2, "tickColor": "#c8c8c8", "tickWidth": 0.5, "grid": true, "gridColor": "#ececec", "gridWidth": 0.6, "domain": false,
                    "title": "Cycle", "titleFont": "Liberation Serif", "titleFontSize": 13, "titleFontWeight": "normal", "titleColor": "#333", "titlePadding": 5}},
                "y": {"field": "rn", "type": "quantitative", "scale": {"domain": [0, 2], "nice": false},
                  "axis": {"tickCount": 100, "values": [0, 0.1, 0.2, 0.3, 0.4, 0.5, 0.6, 0.7, 0.8, 0.9, 1.0, 1.1, 1.2, 1.3, 1.4, 1.5, 1.6, 1.7, 1.8, 1.9, 2.0], "format": ".3f", "labelFontSize": 3, "labelColor": "#888", "labelPadding": 1, "tickSize": 2, "tickColor": "#c8c8c8", "tickWidth": 0.5, "grid": true, "gridColor": "#ececec", "gridWidth": 0.6, "domain": false, "title": null}},
                "color": {"field": "allele", "type": "nominal", "scale": {"domain": ["FcgR2c-C", "FcgR2c-T"], "range": ["#e8262b", "#2e3192"]}, "legend": null}
              }
            }
          ]
        }
      ]
    }
  ],
  "spacing": 16,
  "resolve": {"scale": {"x": "independent", "y": "independent", "color": "independent"}, "axis": {"x": "independent", "y": "independent"}, "legend": {"color": "independent"}}
}
